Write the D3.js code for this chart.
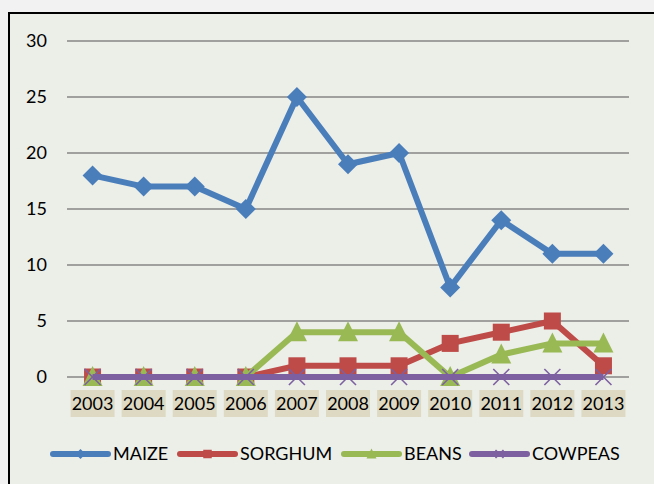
<!DOCTYPE html>
<html>
<head>
<meta charset="utf-8">
<script src="https://cdn.jsdelivr.net/npm/d3@7/dist/d3.min.js"></script>
<style>
  body { margin: 0; background: #f2f2f2; }
  svg { display: block; font-family: Lato, "Open Sans", sans-serif; }
</style>
</head>
<body>
<div id="chart"></div>
<script>
// datos
var years = ["2003", "2004", "2005", "2006", "2007", "2008", "2009", "2010", "2011", "2012", "2013"];
var maize = [18, 17, 17, 15, 25, 19, 20, 8, 14, 11, 11];
var sorghum = [0, 0, 0, 0, 1, 1, 1, 3, 4, 5, 1];
var beans = [0, 0, 0, 0, 4, 4, 4, 0, 2, 3, 3];
var cowpeas = [0, 0, 0, 0, 0, 0, 0, 0, 0, 0, 0];
var yTicks = [0, 5, 10, 15, 20, 25, 30];

var series = [
  { name: "MAIZE", values: maize, color: "#4a7ebb", symbol: "diamond" },
  { name: "SORGHUM", values: sorghum, color: "#be4b48", symbol: "square" },
  { name: "BEANS", values: beans, color: "#98b954", symbol: "triangle" },
  { name: "COWPEAS", values: cowpeas, color: "#7d60a0", symbol: "cross" }
];

var width = 654, height = 484;

var svg = d3.select("#chart").append("svg")
  .attr("width", width)
  .attr("height", height);

// fondo del area del grafico con borde izquierdo y superior
svg.append("rect")
  .attr("x", 9).attr("y", 13)
  .attr("width", width).attr("height", height)
  .attr("fill", "#eceee8");
svg.append("path")
  .attr("d", "M9," + height + "V13H" + width)
  .attr("fill", "none")
  .attr("stroke", "#000")
  .attr("stroke-width", 2);

var x = d3.scaleBand()
  .domain(years)
  .range([67, 629]);

var y = d3.scaleLinear()
  .domain([0, 30])
  .range([377, 41]);

// lineas de grilla
svg.selectAll(".grid")
  .data(yTicks)
  .enter().append("line")
  .attr("x1", 67).attr("x2", 629)
  .attr("y1", function(d){ return y(d); })
  .attr("y2", function(d){ return y(d); })
  .attr("stroke", "#878787")
  .attr("stroke-width", 1.5);

// etiquetas eje y
svg.selectAll(".ylab")
  .data(yTicks)
  .enter().append("text")
  .attr("x", 47)
  .attr("y", function(d){ return y(d); })
  .attr("dy", "0.36em")
  .attr("text-anchor", "end")
  .style("font-size", "18px")
  .attr("fill", "#000")
  .text(function(d){ return d; });

// etiquetas eje x con recuadro
var xl = svg.selectAll(".xlab")
  .data(years)
  .enter().append("g")
  .attr("transform", function(d){ return "translate(" + (x(d) + x.bandwidth() / 2) + ",0)"; });
xl.append("rect")
  .attr("x", -22).attr("y", 390)
  .attr("width", 44).attr("height", 27)
  .attr("fill", "#ddd9c3");
xl.append("text")
  .attr("y", 404)
  .attr("dy", "0.36em")
  .attr("text-anchor", "middle")
  .style("font-size", "18px")
  .attr("fill", "#000")
  .text(function(d){ return d; });

function cx(i){ return x(years[i]) + x.bandwidth() / 2; }

function marker(g, s, size){
  if (s.symbol === "diamond") {
    g.append("path").attr("d", "M0," + (-size) + "L" + size + ",0L0," + size + "L" + (-size) + ",0Z")
      .attr("fill", s.color);
  } else if (s.symbol === "square") {
    g.append("rect").attr("x", -size * 0.85).attr("y", -size * 0.85)
      .attr("width", size * 1.7).attr("height", size * 1.7)
      .attr("fill", s.color);
  } else if (s.symbol === "triangle") {
    g.append("path").attr("d", "M0," + (-size * 1.1) + "L" + size + "," + (size * 0.9) + "L" + (-size) + "," + (size * 0.9) + "Z")
      .attr("fill", s.color);
  } else {
    g.append("path").attr("d", "M" + (-size * 0.8) + "," + (-size * 0.8) + "L" + (size * 0.8) + "," + (size * 0.8) +
      "M" + (size * 0.8) + "," + (-size * 0.8) + "L" + (-size * 0.8) + "," + (size * 0.8))
      .attr("stroke", s.color).attr("stroke-width", 1.6).attr("fill", "none");
  }
}

var line = d3.line()
  .x(function(d, i){ return cx(i); })
  .y(function(d){ return y(d); });

series.forEach(function(s){
  var g = svg.append("g");
  g.append("path")
    .datum(s.values)
    .attr("d", line)
    .attr("fill", "none")
    .attr("stroke", s.color)
    .attr("stroke-width", 6)
    .attr("stroke-linejoin", "round");
  s.values.forEach(function(v, i){
    var m = g.append("g").attr("transform", "translate(" + cx(i) + "," + y(v) + ")");
    marker(m, s, 10);
  });
});

// leyenda
var legendX = [53, 180, 344, 472];
series.forEach(function(s, i){
  var g = svg.append("g").attr("transform", "translate(" + legendX[i] + ",454)");
  g.append("line")
    .attr("x1", 0).attr("x2", 55)
    .attr("stroke", s.color)
    .attr("stroke-width", 6)
    .attr("stroke-linecap", "round");
  var m = g.append("g").attr("transform", "translate(27.5,0)");
  marker(m, s, 5);
  g.append("text")
    .attr("x", 60)
    .attr("dy", "0.36em")
    .style("font-size", "18px")
    .attr("fill", "#000")
    .text(s.name);
});
</script>
</body>
</html>
